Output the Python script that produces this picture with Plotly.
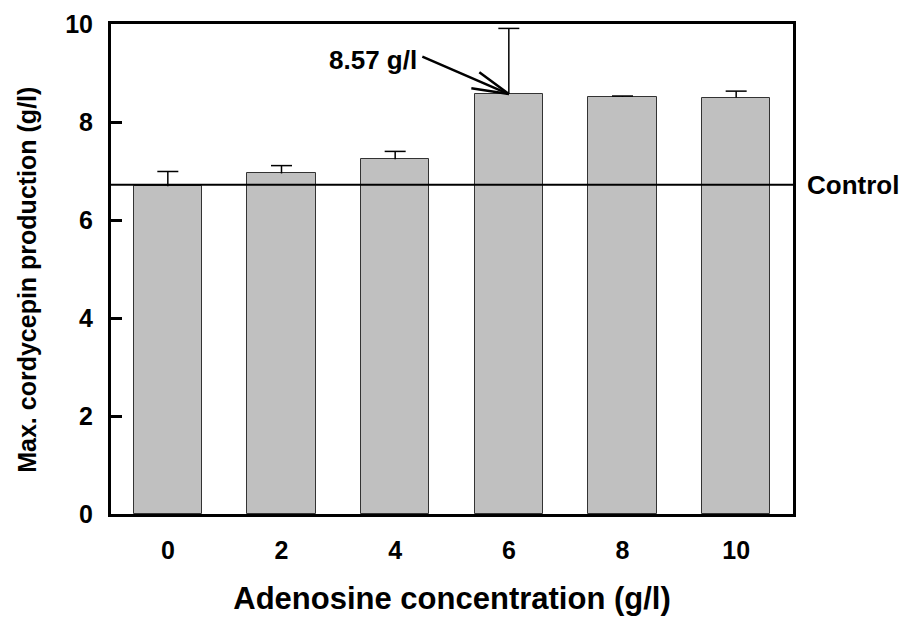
import plotly.graph_objects as go

# Adenosine concentration in the medium (g/l)
adenosine = [0, 2, 4, 6, 8, 10]
x_tick_labels = ["0", "2", "4", "6", "8", "10"]
y_ticks = [0, 2, 4, 6, 8, 10]
y_tick_labels = ["0", "2", "4", "6", "8", "10"]
# Maximum cordycepin production (g/l) and its standard deviation
cordycepin = [6.69, 6.95, 7.24, 8.57, 8.51, 8.50]
cordycepin_sd = [0.30, 0.16, 0.16, 1.34, 0.02, 0.13]
control_level = 6.72
peak_label = "8.57 g/l"

FONT = "Arial, 'Liberation Sans', Helvetica, sans-serif"

fig = go.Figure()

fig.add_trace(go.Bar(
    x=adenosine,
    y=cordycepin,
    width=1.2,
    marker=dict(color="#c0c0c0", line=dict(color="#333333", width=1)),
    showlegend=False,
    hoverinfo="skip",
))

# upper-only error bars: stem from the bar top, cap at the top end
err_top = [v + e for v, e in zip(cordycepin, cordycepin_sd)]
fig.add_trace(go.Scatter(
    x=adenosine,
    y=err_top,
    mode="markers",
    marker=dict(symbol="line-ew", size=15,
                line=dict(color="black", width=1.5)),
    error_y=dict(
        type="data",
        symmetric=False,
        array=[0] * len(cordycepin_sd),
        arrayminus=cordycepin_sd,
        color="black",
        thickness=1.5,
        width=0,
    ),
    showlegend=False,
))

# control level across the whole plot
fig.add_shape(type="line", xref="paper", x0=0, x1=1, yref="y",
              y0=control_level, y1=control_level,
              line=dict(color="black", width=2))
fig.add_annotation(xref="paper", x=1, yref="y", y=control_level,
                   text="<b>Control</b>", showarrow=False,
                   xanchor="left", xshift=12,
                   font=dict(family=FONT, size=26, color="black"))

# callout for the best concentration
peak_i = cordycepin.index(max(cordycepin))
px, py = adenosine[peak_i], cordycepin[peak_i]
fig.add_annotation(x=px, y=py, xref="x", yref="y", text="",
                   showarrow=True, arrowhead=0, arrowwidth=2.5,
                   arrowcolor="black", ax=-88, ay=-38, standoff=0)
for hx, hy in [(-31, -23), (-39, -6)]:
    fig.add_annotation(x=px, y=py, xref="x", yref="y", text="",
                       showarrow=True, arrowhead=0, arrowwidth=2.5,
                       arrowcolor="black", ax=hx, ay=hy, standoff=0)
fig.add_annotation(x=px, y=py, xref="x", yref="y",
                   text="<b>" + peak_label + "</b>", showarrow=False,
                   xanchor="right", yanchor="middle",
                   xshift=-90, yshift=34,
                   font=dict(family=FONT, size=26, color="black"))

# y-axis title, placed as a rotated annotation
fig.add_annotation(xref="paper", yref="paper", x=0, y=0.478,
                   xanchor="center", yanchor="middle", xshift=-84,
                   text="<b>Max. cordycepin production (g/l)</b>",
                   textangle=-90, showarrow=False,
                   font=dict(family=FONT, size=25, color="black"))

fig.update_layout(
    width=904, height=617,
    margin=dict(l=111, r=111, t=24, b=103),
    plot_bgcolor="white", paper_bgcolor="white",
    font=dict(family=FONT, color="black"),
    bargap=0,
)

fig.update_xaxes(
    range=[-1, 11], automargin=False,
    tickvals=adenosine, ticktext=["<b>%s</b>" % t for t in x_tick_labels],
    tickfont=dict(family=FONT, size=25, color="black"),
    ticks="", showgrid=False, zeroline=False,
    showline=True, linecolor="black", linewidth=3, mirror=True,
    ticklabelstandoff=12,
    title=dict(text="<b>Adenosine concentration (g/l)</b>",
               font=dict(family=FONT, size=31, color="black"), standoff=25),
)
fig.update_yaxes(
    range=[0, 10], automargin=False,
    tickvals=y_ticks, ticktext=["<b>%s</b>" % t for t in y_tick_labels],
    tickfont=dict(family=FONT, size=25, color="black"),
    ticks="inside", ticklen=11, tickwidth=2.5, tickcolor="black",
    showgrid=False, zeroline=False,
    showline=True, linecolor="black", linewidth=3, mirror=True,
    ticklabelstandoff=10,
)

fig.write_html("out.html")
